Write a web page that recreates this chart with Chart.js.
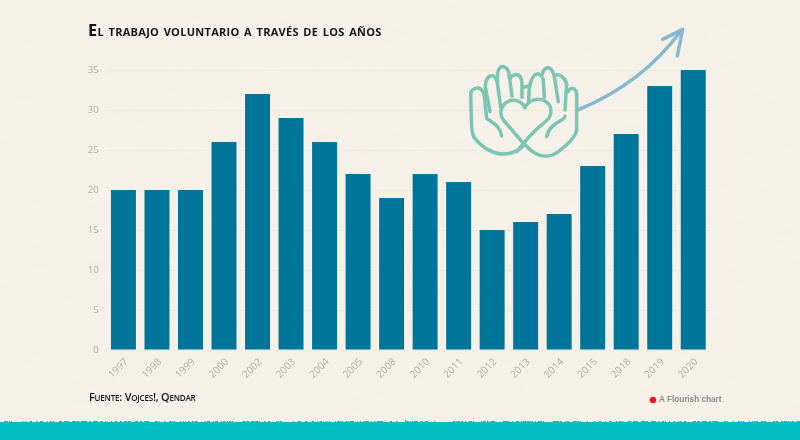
<!DOCTYPE html>
<html lang="es">
<head>
<meta charset="utf-8">
<script src="https://cdn.jsdelivr.net/npm/chart.js@4"></script>
<style>
html,body{margin:0;padding:0;background:#f6f2e9;}
#wrap{position:relative;width:800px;height:440px;overflow:hidden;background:#f6f2e9;}
#wrap svg{position:absolute;left:0;top:0;}
canvas{position:absolute;left:0;top:0;}
.t{position:absolute;white-space:nowrap;color:#141517;}
#title{left:88px;top:18px;font:small-caps 700 16.35px/24px "Open Sans",sans-serif;letter-spacing:.29px;}
#source{left:89px;top:389px;font:small-caps 600 10.9px/16px "Open Sans",sans-serif;letter-spacing:-.2px;}
#brand{position:absolute;left:659px;top:394px;font:bold 8.2px/12px "Liberation Sans",sans-serif;color:#8a8884;white-space:nowrap;}
#dot{position:absolute;left:650px;top:397px;width:6px;height:6px;border-radius:50%;background:#e0141c;box-shadow:0 0 2px #e8606a;}
</style>
</head>
<body>
<div id="wrap">
<svg width="800" height="440" style="z-index:0">
<defs>
<filter id="paper" x="0" y="0" width="100%" height="100%">
<feTurbulence type="fractalNoise" baseFrequency="0.035 0.05" numOctaves="4" seed="7"/>
<feColorMatrix values="0 0 0 0 .55  0 0 0 0 .52  0 0 0 0 .42  .35 0 0 0 -.1"/>
</filter>
<filter id="rough" x="-5%" y="-20%" width="110%" height="140%">
<feTurbulence type="turbulence" baseFrequency="0.45 0.3" numOctaves="2" seed="3"/>
<feDisplacementMap in="SourceGraphic" scale="2.5" yChannelSelector="R" xChannelSelector="G"/>
</filter>
</defs>
<rect width="800" height="440" filter="url(#paper)" opacity=".18"/>
</svg>
<canvas id="c" width="800" height="440" style="z-index:1"></canvas>
<svg width="800" height="440" style="z-index:2">
<rect x="-10" y="421" width="820" height="30" fill="#00bfc0" filter="url(#rough)"/>
<g transform="translate(450 10) scale(.3333)" fill="none" stroke-linecap="round" stroke-linejoin="round">
<g stroke="#86b8cf" stroke-width="10.5">
<path d="M386 299C480 260 600 190 695 60"/>
<path d="M638 88L698 58L682 138"/>
</g>
<g stroke="#7cc4b4" stroke-width="10.5">
<path d="M222 405C205 425 185 433 155 432C120 428 90 405 72 382C63 365 65 345 64 320L62 255C62 240 75 233 85 234C96 236 101 246 103 258L110 325C125 338 150 345 155 378"/>
<path d="M120 305L106 232C106 205 118 195 128 197C138 200 141 212 143 225L152 292"/>
<path d="M142 215L143 190C145 175 152 168 160 170C172 172 177 185 178 200L186 258"/>
<path d="M180 207C185 195 198 190 207 196C215 202 216 215 216 228L216 262"/>
<path d="M218 232L238 228L236 275"/>
<path d="M238 232C243 208 252 190 266 192C276 196 281 210 281 225L283 262"/>
<path d="M277 193C278 178 288 172 297 174C308 178 312 192 314 205L325 275"/>
<path d="M314 197C325 190 345 200 350 222L345 300"/>
<path d="M354 245C358 235 370 232 376 240C382 250 380 262 380 280L380 360C375 385 350 405 325 425C305 440 280 442 260 432C245 425 235 415 226 405"/>
<path d="M345 318C345 335 300 335 290 380"/>
<path d="M225 293C215 272 190 265 170 277C150 290 148 315 160 330L222 402"/>
<path d="M225 293C235 270 262 262 285 273C308 285 308 315 290 332C265 352 245 370 228 392L200 425"/>
</g>
</g>
</svg>
<div class="t" id="title" style="z-index:3">El trabajo voluntario a través de los años</div>
<div class="t" id="source" style="z-index:3">Fuente: Vojces!, Qendar</div>
<div id="dot" style="z-index:3"></div>
<div id="brand" style="z-index:3">A Flourish chart</div>
</div>
<script>
const years = ["1997","1998","1999","2000","2002","2003","2004","2005","2008","2010","2011","2012","2013","2014","2015","2018","2019","2020"];
const values = [20,20,20,26,32,29,26,22,19,22,21,15,16,17,23,27,33,35];
const barColor = "#00759c";
const tickColor = "#aeaca3";
const gridColor = "#eeeade";

new Chart(document.getElementById("c"), {
  type: "bar",
  data: { labels: years, datasets: [{ data: values, backgroundColor: barColor, borderWidth: 0, categoryPercentage: 1, barPercentage: 0.745 }] },
  options: {
    responsive: false,
    animation: false,
    layout: { padding: { top: 70, right: 90, left: 0, bottom: 0 } },
    plugins: { legend: { display: false }, tooltip: { enabled: false }, title: { display: false } },
    scales: {
      x: {
        grid: { display: false, drawTicks: false },
        border: { color: gridColor },
        ticks: { color: tickColor, font: { family: "'Open Sans',sans-serif", size: 10 }, minRotation: 45, maxRotation: 45, padding: 6, labelOffset: 3, autoSkip: false },
        afterFit(s) { s.height = 90; }
      },
      y: {
        min: 0, max: 35,
        grid: { color: gridColor, drawTicks: false },
        border: { display: false },
        ticks: { color: tickColor, stepSize: 5, font: { family: "'Open Sans',sans-serif", size: 9.5 }, padding: 8 },
        afterFit(s) { s.width = 106.7; }
      }
    }
  }
});
</script>
</body>
</html>
